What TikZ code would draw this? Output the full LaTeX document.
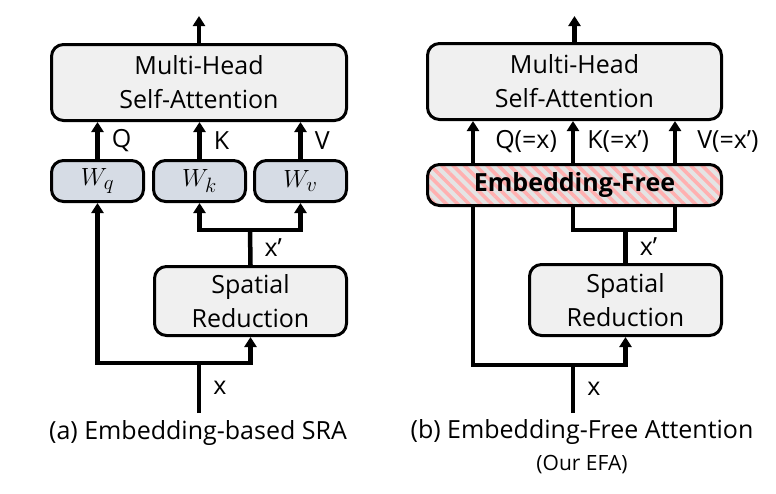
\documentclass[tikz,border=0pt]{standalone}
\usepackage{fontspec}
\setmainfont{Open Sans}
\usetikzlibrary{arrows.meta,patterns.meta}
\definecolor{boxgray}{HTML}{F0F0F0}
\definecolor{wblue}{HTML}{D6DCE5}
\definecolor{efgray}{HTML}{E4E4E4}
\definecolor{efpink}{HTML}{FFB0B0}
\tikzset{>={Triangle[length=10pt,width=12pt]},every node/.style={font=\fontsize{25}{34}\selectfont},
  box/.style={draw,line width=3pt,rounded corners=12pt,align=center,inner sep=0pt},
  gbox/.style={box,fill=boxgray},
  wbox/.style={box,fill=wblue,minimum width=92pt,minimum height=41pt,font=\fontsize{29}{30}\selectfont},
  efbox/.style={box,preaction={fill=efgray},pattern={Lines[angle=-45,distance=8pt,line width=3.5pt]},pattern color=efpink},
  flow/.style={line width=4.5pt,->},edge/.style={line width=4.5pt},
  lbl/.style={right=12pt,inner sep=0pt}}

\begin{document}
\begin{tikzpicture}[x=1pt,y=-1pt]
\useasboundingbox (0,0) rectangle (776,493);
% (a) embedding-based SRA
\node[gbox,minimum width=295pt,minimum height=76pt] (mhsaA) at (199,82.5) {Multi-Head\\Self-Attention};
\node[wbox] (wq) at (97.5,181) {$W_q$};\node[wbox] (wk) at (199.5,181) {$W_k$};\node[wbox] (wv) at (300.5,181) {$W_v$};
\node[gbox,minimum width=192pt,minimum height=69pt] (srA) at (250.5,301) {Spatial\\Reduction};
\coordinate (outA) at (199,16);\coordinate (inA) at (199,413);\coordinate (jA) at (199,363);\coordinate (kA) at (250,230);
\draw[flow] (mhsaA.north) -- (outA);
\draw[flow] (wq.north) -- node[lbl]{Q} (wq.north |- mhsaA.south);
\draw[flow] (wk.north) -- node[lbl]{K} (wk.north |- mhsaA.south);
\draw[flow] (wv.north) -- node[lbl]{V} (wv.north |- mhsaA.south);
\draw[edge] (inA) -- node[lbl]{x} (jA);\draw[flow] (jA) -| (wq.south);\draw[flow] (jA) -| (srA.south);
\draw[edge] (srA.north) -- node[lbl]{x’} (kA);\draw[flow] (kA) -| (wk.south);\draw[flow] (kA) -| (wv.south);
\node (capA) at (198,433) {(a) Embedding-based SRA};
% (b) embedding-free attention
\node[gbox,minimum width=294pt,minimum height=76pt] (mhsaB) at (574.5,81.5) {Multi-Head\\Self-Attention};
\node[efbox,minimum width=294pt,minimum height=41pt] (ef) at (574.5,185) {\bfseries Embedding-Free};
\node[gbox,minimum width=192pt,minimum height=71pt] (srB) at (625.5,300) {Spatial\\Reduction};
\coordinate (outB) at (574.5,16);\coordinate (inB) at (573,413);\coordinate (jB) at (573,365);\coordinate (sB) at (625.5,230);
\coordinate (qB) at (473,0);\coordinate (kB) at (573,0);\coordinate (vB) at (675,0);
\draw[flow] (mhsaB.north) -- (outB);
\draw[flow] (qB |- ef.north) -- node[lbl,right=8pt]{Q(=x)} (qB |- mhsaB.south);
\draw[flow] (kB |- ef.north) -- node[lbl]{K(=x’)} (kB |- mhsaB.south);
\draw[flow] (vB |- ef.north) -- node[lbl,right=8pt]{V(=x’)} (vB |- mhsaB.south);
\draw[edge] (inB) -- node[lbl]{x} (jB);\draw[edge] (jB) -| (qB |- ef.south);\draw[flow] (jB) -| (srB.south);
\draw[edge] (srB.north) -- node[lbl]{x’} (sB);\draw[edge] (sB) -| (kB |- ef.south);\draw[edge] (sB) -| (vB |- ef.south);
\node (capB) at (582,432) {(b) Embedding-Free Attention};
\node[font=\fontsize{21}{25}\selectfont] (noteB) at (582,465) {(Our EFA)};
\end{tikzpicture}
\end{document}
